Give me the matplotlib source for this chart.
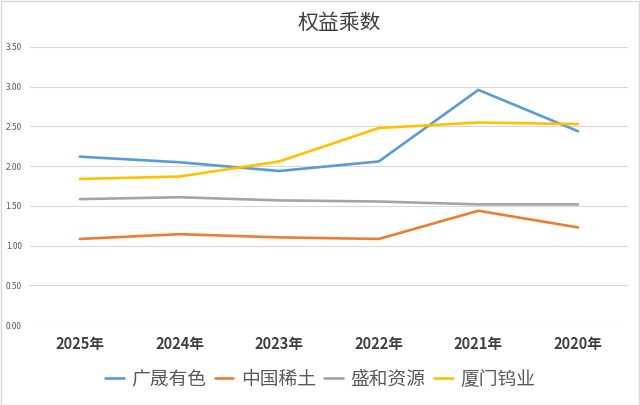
import matplotlib
matplotlib.use("Agg")
import matplotlib.pyplot as plt
from matplotlib.patches import Rectangle

plt.rcParams['font.family'] = ['Noto Sans CJK SC', 'DejaVu Sans']

categories = ['2025年', '2024年', '2023年', '2022年', '2021年', '2020年']
gsys = [2.12, 2.05, 1.94, 2.06, 2.96, 2.44]
zgxt = [1.085, 1.145, 1.105, 1.085, 1.44, 1.23]
shzy = [1.586, 1.61, 1.57, 1.556, 1.52, 1.52]
xmwy = [1.84, 1.87, 2.06, 2.48, 2.55, 2.53]
series_names = ['广晟有色', '中国稀土', '盛和资源', '厦门钨业']
colors = ['#5B9BD5', '#ED7D31', '#A5A5A5', '#FFC000']
yticks = [0.0, 0.5, 1.0, 1.5, 2.0, 2.5, 3.0, 3.5]

fig = plt.figure(figsize=(6.4, 4.05), dpi=100)
fig.patches.append(Rectangle((0.001, 0.001), 0.997, 0.996, transform=fig.transFigure,
                             fill=False, edgecolor='#d9d9d9', linewidth=1))
ax = fig.add_axes([0.047, 0.197, 0.934, 0.687])

x = list(range(len(categories)))
for data, name, c in zip([gsys, zgxt, shzy, xmwy], series_names, colors):
    ax.plot(x, data, color=c, linewidth=1.9, label=name, solid_capstyle='round')

ax.set_xlim(-0.5, len(categories) - 0.5)
ax.set_ylim(0, 3.5)
ax.set_yticks(yticks)
ax.set_yticklabels([f'{v:.2f}' for v in yticks], fontsize=6, color='#595959')
ax.set_xticks(x)
ax.set_xticklabels(categories, fontsize=10.5, fontweight='bold', color='#404040')
ax.tick_params(axis='both', length=0)
ax.tick_params(axis='y', pad=6)
ax.tick_params(axis='x', pad=8)
ax.grid(axis='y', color='#d9d9d9', linewidth=0.8)
ax.set_axisbelow(True)
for s in ax.spines.values():
    s.set_visible(False)

fig.text(0.53, 0.943, '权益乘数', ha='center', va='center', fontsize=15, color='#404040')

leg = fig.legend(loc='center', bbox_to_anchor=(0.5, 0.063), ncol=4, frameon=False,
                 fontsize=13.5, handlelength=1.0, handletextpad=0.4, columnspacing=0.45)
for t in leg.get_texts():
    t.set_color('#595959')

fig.savefig('out.png', dpi=100)
